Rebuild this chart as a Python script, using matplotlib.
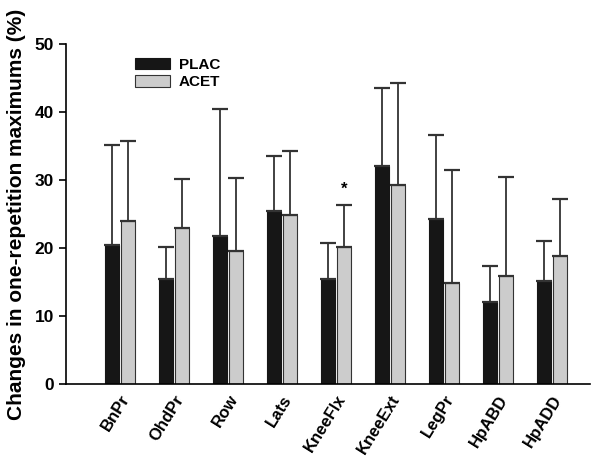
import numpy as np
import matplotlib.pyplot as plt

plt.rcParams.update({'font.family': 'Liberation Sans', 'font.weight': 'bold'})

exercises = ['BnPr', 'OhdPr', 'Row', 'Lats', 'KneeFlx', 'KneeExt', 'LegPr', 'HpABD', 'HpADD']
plac = [20.5, 15.5, 21.7, 25.4, 15.5, 32.1, 24.3, 12.0, 15.2]
plac_sd = [14.7, 4.7, 18.7, 8.1, 5.2, 11.4, 12.3, 5.4, 5.9]
acet = [24.0, 23.0, 19.6, 24.8, 20.1, 29.3, 14.8, 15.9, 18.8]
acet_sd = [11.8, 7.1, 10.7, 9.5, 6.2, 15.0, 16.6, 14.6, 8.4]

x = np.arange(1, len(exercises) + 1)
w = 0.26
off = 0.157

fig = plt.figure(figsize=(6.0, 4.61), dpi=100)
ax = fig.add_axes([0.11, 0.167, 0.873, 0.7376])

err_kw = dict(ecolor='#333333', elinewidth=1.3, capsize=6, capthick=1.6)
ax.bar(x - off, plac, w, color='#161616', edgecolor='#161616', linewidth=0.8,
       yerr=[np.zeros(len(plac)), plac_sd], error_kw=err_kw, label='PLAC')
ax.bar(x + off, acet, w, color='#cccccc', edgecolor='#333333', linewidth=0.8,
       yerr=[np.zeros(len(acet)), acet_sd], error_kw=err_kw, label='ACET')

# significance marker
ax.text(x[4] + off, acet[4] + acet_sd[4] + 1.3, '*', ha='center', va='bottom', fontsize=12)

ax.set_xlim(0, 9.7)
ax.set_ylim(0, 50)
ax.set_yticks(range(0, 51, 10))
ax.set_xticks(x)
ax.set_xticklabels(exercises, rotation=58, ha='right', rotation_mode='anchor', fontsize=12)
ax.tick_params(axis='x', length=0, pad=6)
ax.tick_params(axis='y', labelsize=12.5, width=1.2, length=5, direction='out')
ax.spines['top'].set_visible(False)
ax.spines['right'].set_visible(False)
ax.spines['left'].set_linewidth(1.2)
ax.spines['bottom'].set_linewidth(1.2)
ax.set_ylabel('Changes in one-repetition maximums (%)', fontsize=15, fontweight='bold', labelpad=6)

ax.legend(loc='upper left', bbox_to_anchor=(0.105, 1.0), frameon=False, fontsize=11,
          handlelength=2.3, handleheight=0.8, labelspacing=0.2, handletextpad=0.6)

fig.savefig('out.png', dpi=100)
